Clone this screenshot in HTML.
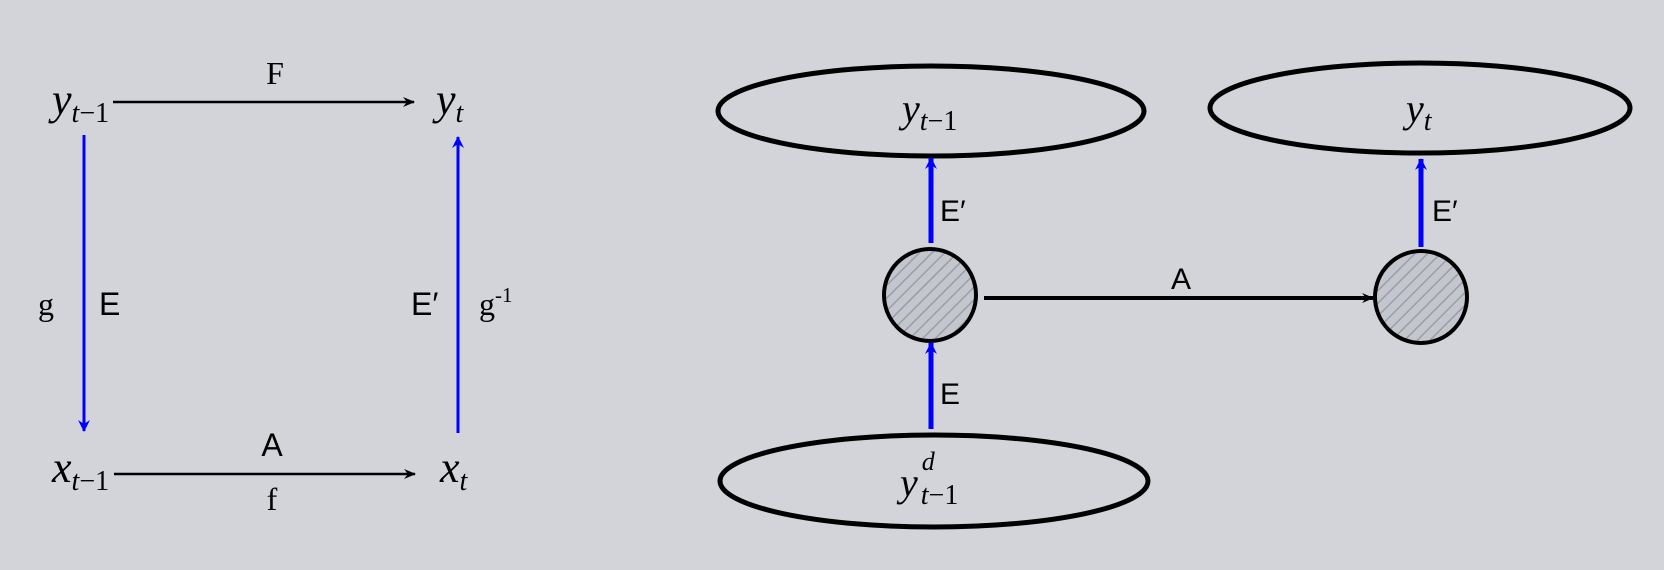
<!DOCTYPE html>
<html><head><meta charset="utf-8"><style>
html,body{margin:0;padding:0;background:#d3d4d9;}
svg{display:block}
.m{font-family:"Liberation Serif",serif;font-style:italic}
.r{font-family:"Liberation Serif",serif}
.s{font-family:"Liberation Sans",sans-serif}
</style></head><body>
<svg width="1664" height="570" viewBox="0 0 1664 570">
<defs>
<marker id="ak" markerWidth="12" markerHeight="10" refX="11" refY="5" orient="auto" markerUnits="userSpaceOnUse"><path d="M0,0 L12,5 L0,10 L4,5 Z" fill="#000"/></marker>
<marker id="ab" markerWidth="12" markerHeight="12" refX="11" refY="6" orient="auto" markerUnits="userSpaceOnUse"><path d="M0,0 L12,6 L0,12 L4,6 Z" fill="#0000ff"/></marker>
<pattern id="hatch" width="9" height="9" patternUnits="userSpaceOnUse" patternTransform="rotate(45)"><rect width="9" height="9" fill="#c4c6cd"/><line x1="0" y1="0" x2="0" y2="9" stroke="#9a9da8" stroke-width="3"/></pattern>
</defs>
<g>
<text class="m" x="52" y="114" font-size="44">y<tspan font-size="28" dy="8">t</tspan><tspan class="r" font-style="normal" font-size="28">−1</tspan></text>
<text class="m" x="436" y="114" font-size="44">y<tspan font-size="28" dy="8">t</tspan></text>
<text class="m" x="52" y="482" font-size="44">x<tspan font-size="28" dy="8">t</tspan><tspan class="r" font-style="normal" font-size="28">−1</tspan></text>
<text class="m" x="440" y="482" font-size="44">x<tspan font-size="28" dy="8">t</tspan></text>
<line x1="113" y1="102" x2="414" y2="102" stroke="#000" stroke-width="2.5" marker-end="url(#ak)"/>
<text class="r" x="275" y="84" font-size="32" text-anchor="middle">F</text>
<line x1="114" y1="474" x2="415" y2="474" stroke="#000" stroke-width="2.5" marker-end="url(#ak)"/>
<text class="s" x="272" y="456" font-size="32" text-anchor="middle">A</text>
<text class="r" x="272" y="510" font-size="32" text-anchor="middle">f</text>
<line x1="84" y1="135" x2="84" y2="431" stroke="#0000ff" stroke-width="3" marker-end="url(#ab)"/>
<text class="r" x="38" y="315" font-size="32">g</text>
<text class="s" x="99" y="315" font-size="32">E</text>
<line x1="458" y1="433" x2="458" y2="137" stroke="#0000ff" stroke-width="3" marker-end="url(#ab)"/>
<text class="s" x="411" y="315" font-size="32">E′</text>
<text class="r" x="479" y="315" font-size="32">g<tspan font-size="21" dy="-13">-1</tspan></text>
</g>
<g>
<ellipse cx="931" cy="111" rx="213" ry="45" fill="none" stroke="#000" stroke-width="5"/>
<ellipse cx="1420" cy="108" rx="210" ry="45" fill="none" stroke="#000" stroke-width="5"/>
<ellipse cx="934" cy="481" rx="214" ry="46" fill="none" stroke="#000" stroke-width="5"/>
<text class="m" x="902" y="122" font-size="40">y<tspan font-size="28" dy="8">t</tspan><tspan class="r" font-style="normal" font-size="28">−1</tspan></text>
<text class="m" x="1406" y="122" font-size="40">y<tspan font-size="28" dy="8">t</tspan></text>
<text class="m" x="900" y="496" font-size="40">y<tspan font-size="26" dx="4" dy="-26">d</tspan><tspan font-size="28" dx="-14" dy="34">t</tspan><tspan class="r" font-style="normal" font-size="28">−1</tspan></text>
<circle cx="930" cy="295" r="46" fill="url(#hatch)" stroke="#000" stroke-width="4"/>
<circle cx="1421" cy="297" r="46" fill="url(#hatch)" stroke="#000" stroke-width="4"/>
<line x1="984" y1="298" x2="1373" y2="298" stroke="#000" stroke-width="4" marker-end="url(#ak)"/>
<text class="s" x="1181" y="289" font-size="30" text-anchor="middle">A</text>
<line x1="931" y1="243" x2="931" y2="158" stroke="#0000ff" stroke-width="5" marker-end="url(#ab)"/>
<text class="s" x="940" y="221" font-size="30">E′</text>
<line x1="1421" y1="247" x2="1421" y2="159" stroke="#0000ff" stroke-width="5" marker-end="url(#ab)"/>
<text class="s" x="1432" y="221" font-size="30">E′</text>
<line x1="931" y1="429" x2="931" y2="343" stroke="#0000ff" stroke-width="5" marker-end="url(#ab)"/>
<text class="s" x="940" y="404" font-size="30">E</text>
</g>
</svg>
</body></html>
